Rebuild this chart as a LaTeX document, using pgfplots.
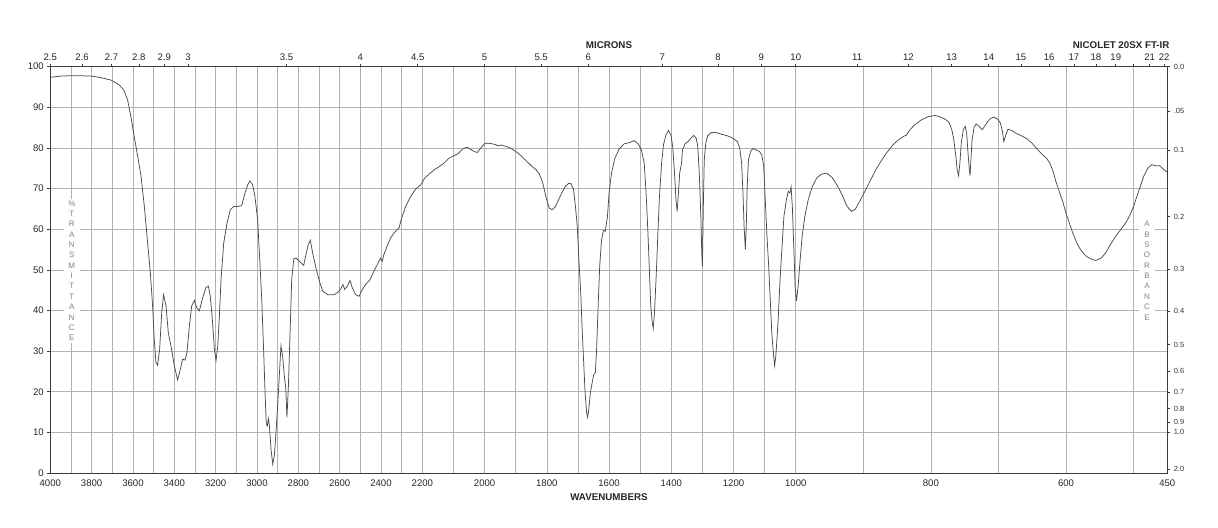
\documentclass[border=0pt]{standalone}
\usepackage{fontspec}
\setmainfont{Liberation Sans}
\usepackage{pgfplots}
\usepackage{pgfplotstable}
\pgfplotsset{compat=1.18}
\definecolor{gridc}{RGB}{178,178,178}
\definecolor{framec}{RGB}{60,60,60}
\definecolor{specc}{RGB}{75,75,75}
\definecolor{lblc}{RGB}{130,130,130}

% piecewise-linear wavenumber scale of the chart (breaks at 2200 and 1000 cm^-1)
\pgfplotsset{
  irframe/.style={
    at={(50.3bp,55bp)}, anchor=south west,
    scale only axis, width=1117bp, height=406.3bp,
    xmin=0, xmax=1117.08, ymin=0, ymax=100,
    tick align=outside, major tick length=3bp, minor tick length=0bp,
  },
}

\pgfplotstableread{
wn T
4000 97.4
3948 97.7
3884 97.8
3803 97.7
3755 97.3
3706 96.7
3666 95.5
3645 94.3
3626 91.8
3610 87.7
3594 82.8
3577 77.9
3561 73.0
3545 65.6
3529 56.6
3516 49.3
3505 41.1
3497 32.9
3489 27.2
3481 26.5
3471 30.4
3461 39.4
3452 43.9
3440 41.1
3429 34.5
3413 30.4
3400 26.4
3384 22.9
3371 25.5
3360 28.0
3348 27.8
3339 29.6
3327 36.2
3316 41.1
3303 42.5
3292 40.7
3279 39.9
3263 43.1
3247 45.6
3235 46.0
3226 43.5
3216 37.8
3206 30.4
3198 27.7
3190 31.2
3182 38.6
3174 47.6
3161 56.6
3145 61.5
3129 64.8
3113 65.6
3094 65.6
3074 65.8
3058 68.9
3045 70.9
3034 71.9
3021 70.9
3010 68.1
2997 62.4
2985 50.9
2977 42.7
2968 30.4
2961 19.8
2955 12.0
2950 11.6
2945 13.4
2940 11.6
2932 5.9
2924 2.2
2916 4.3
2908 10.0
2900 16.5
2892 23.9
2884 31.3
2876 28.8
2868 23.9
2861 21.0
2855 13.7
2848 21.4
2840 34.5
2832 47.6
2822 52.7
2811 52.9
2795 52.1
2774 51.1
2763 53.8
2752 56.2
2742 57.3
2731 54.2
2715 50.5
2698 47.2
2682 44.8
2658 43.9
2627 43.9
2608 44.5
2595 45.3
2584 46.4
2576 45.2
2563 46.0
2550 47.4
2539 45.6
2523 43.9
2506 43.5
2490 45.2
2474 46.4
2453 47.6
2434 49.7
2418 51.3
2402 52.9
2394 52.1
2386 53.8
2369 56.0
2353 57.9
2337 59.1
2313 60.3
2302 62.4
2281 65.6
2256 68.1
2232 69.9
2208 70.9
2192 72.6
2178 73.6
2162 74.6
2146 75.4
2130 76.3
2114 77.5
2098 78.1
2085 78.6
2071 79.7
2057 80.2
2046 79.7
2033 79.1
2023 78.9
2012 80.0
2001 81.0
1990 81.2
1974 81.0
1963 80.8
1958 80.5
1947 80.7
1931 80.4
1915 79.9
1899 79.1
1883 78.1
1867 76.9
1851 75.7
1834 74.6
1824 73.6
1813 71.4
1802 67.7
1792 65.2
1783 64.8
1773 65.5
1763 67.1
1752 68.9
1741 70.5
1730 71.3
1722 71.2
1714 69.7
1708 65.6
1702 60.7
1697 52.5
1691 44.4
1686 34.5
1681 26.4
1677 19.8
1672 14.9
1669 13.7
1665 15.7
1660 19.8
1654 22.3
1649 24.3
1644 24.7
1640 30.4
1635 41.1
1630 51.0
1624 57.4
1618 59.7
1612 59.5
1605 63.2
1600 68.9
1592 73.8
1582 77.3
1568 79.7
1552 81.0
1535 81.3
1519 81.8
1506 81.0
1496 79.5
1487 76.3
1481 68.9
1475 59.1
1470 49.3
1466 41.1
1461 37.0
1458 35.6
1454 39.4
1448 49.3
1443 59.1
1438 68.1
1431 76.3
1425 80.8
1417 83.2
1409 84.3
1401 83.2
1395 80.0
1389 73.0
1385 67.3
1381 64.4
1377 68.9
1373 73.8
1367 76.3
1364 79.5
1356 81.0
1346 81.6
1337 82.4
1328 83.1
1320 82.4
1315 80.4
1310 73.8
1305 63.2
1302 54.2
1300 50.9
1297 65.6
1294 77.1
1289 81.2
1283 83.0
1272 83.8
1256 83.8
1240 83.4
1220 83.0
1202 82.4
1188 81.6
1180 80.0
1174 76.3
1170 69.7
1166 60.7
1162 55.0
1159 60.7
1156 70.5
1152 77.1
1145 79.1
1138 79.9
1127 79.5
1116 79.1
1109 78.3
1103 75.4
1098 67.3
1093 59.1
1087 50.9
1082 42.7
1077 34.5
1072 29.6
1068 26.4
1064 28.8
1057 37.0
1051 46.8
1044 55.8
1038 63.2
1030 67.3
1024 69.3
1019 68.9
1015 70.4
1011 65.6
1006 55.0
1002 46.0
999 42.3
996.5 46.0
993.5 52.5
990.5 58.3
986.5 63.2
981.5 67.3
975.5 70.5
969 72.6
961.5 73.6
954 73.8
946.5 72.8
939 70.9
931.5 68.5
924 65.6
917.5 64.4
911.5 65.0
904 67.3
896.5 69.7
889 72.2
881.5 74.6
874 76.7
866.5 78.6
860 79.9
856 80.8
848 82.0
841 82.8
836 83.2
831 84.5
824 85.7
814 86.9
804 87.7
794 88.0
787 87.7
779 87.1
773 86.3
769 84.5
766 82.0
763 77.9
761 74.6
759 73.2
757 76.3
755 81.2
752 84.5
749 85.3
747 83.6
745 78.7
743 74.6
742 73.2
741 76.3
739 82.0
736 85.1
733 85.9
729 85.4
724 84.5
719 85.7
713 87.1
707 87.6
701 87.1
697 86.1
694 84.0
692 81.6
689 83.2
686 84.6
680 84.3
674 83.6
666 83.0
659 82.4
651 81.3
644 80.0
637 78.7
629 77.5
624 76.3
619 74.2
615 71.8
610 69.3
605 66.9
600 64.0
595 61.5
590 59.1
585 57.0
580 55.4
575 54.2
569 53.2
563 52.7
556 52.3
548 52.9
542 54.0
537 55.4
532 56.8
526 58.4
519 59.9
511 61.7
505 63.6
500 65.6
495 68.1
490 70.5
485 73.0
479 75.0
473 75.9
467 75.6
461 75.6
456 74.8
450 74.0
}\spec

\begin{document}
\begin{tikzpicture}
\useasboundingbox (0,0) rectangle (1218bp,528bp);
\begin{axis}[
  irframe,
  declare function={wmap(\w)=0.2067*(4000-max(\w,2200))+0.3112*(2200-min(max(\w,1000),2200))+0.6756*(1000-min(\w,1000));},
  % tick positions = wmap(wavenumber)
  xtick={0,41.34,82.68,124.02,165.36,206.7,248.04,289.38,330.72,372.06,434.3,496.54,558.78,621.02,683.26,745.5,880.62,1015.74,1117.08},
  xticklabels={4000,3800,3600,3400,3200,3000,2800,2600,2400,2200,2000,1800,1600,1400,1200,1000,800,600,450},
  minor xtick={20.67,62.01,103.35,144.69,186.03,227.37,268.71,310.05,351.39,403.18,465.42,527.66,589.9,652.14,714.38,813.06,948.18,1083.3},
  ytick={0,10,20,30,40,50,60,70,80,90,100},
  yticklabels={0,10,20,30,40,50,60,70,80,90,100},
  xtick pos=left, ytick pos=left,
  grid=both,
  major grid style={gridc, line width=0.6bp},
  minor grid style={gridc, line width=0.6bp},
  axis line style={framec, line width=1bp},
  xtick style={draw=none},
  ytick style={framec, line width=0.6bp},
  tick label style={font=\fontsize{9.6}{11}\selectfont, text=black!85},
]
\node[fill=white, inner xsep=4.5bp, inner ysep=2bp, text=lblc, font=\fontsize{8}{10.4}\selectfont, align=center] at (axis cs:21.5,49.8) {\%\\T\\R\\A\\N\\S\\M\\I\\T\\T\\A\\N\\C\\E};
\node[fill=white, inner xsep=4.5bp, inner ysep=2bp, text=lblc, font=\fontsize{8}{10.4}\selectfont, align=center] at (axis cs:1096.8,49.8) {A\\B\\S\\O\\R\\B\\A\\N\\C\\E};
\addplot[specc, line width=0.75bp, mark=none] table[x expr={wmap(\thisrow{wn})}, y=T] {\spec};
\end{axis}
\begin{axis}[
  irframe,
  axis line style={draw=none},
  xtick pos=right, xticklabel pos=right,
  ytick pos=right, yticklabel pos=right,
  % micron ticks at wmap(10000/micron)
  xtick={0,31.80,61.25,88.59,114.04,137.80,236.23,310.05,367.47,434.30,490.88,538.03,612.13,667.70,710.92,745.5,806.92,858.10,901.41,938.53,970.70,998.85,1023.69,1045.76,1065.52,1083.30,1099.39,1114.01},
  xticklabels={2.5,2.6,2.7,2.8,2.9,3,3.5,4,4.5,5,5.5,6,7,8,9,10,11,12,13,14,15,16,17,18,19,{},21,22},
  ytick={100,89.125,79.433,63.096,50.119,39.811,31.623,25.119,19.953,15.849,12.589,10,1},
  yticklabels={0.0,.05,0.1,0.2,0.3,0.4,0.5,0.6,0.7,0.8,0.9,1.0,2.0},
  tick style={framec, line width=0.6bp},
  xticklabel style={font=\fontsize{9.6}{11}\selectfont, text=black!85},
  yticklabel style={font=\fontsize{7.5}{9}\selectfont, text=black!80},
]
\end{axis}
\node[font=\bfseries\fontsize{9.8}{11}\selectfont, text=black!85] at (609bp,483bp) {MICRONS};
\node[font=\bfseries\fontsize{9.8}{11}\selectfont, text=black!85, anchor=east] at (1173bp,483bp) {NICOLET 20SX FT-IR};
\node[font=\bfseries\fontsize{9.8}{11}\selectfont, text=black!85] at (609bp,31bp) {WAVENUMBERS};
\end{tikzpicture}
\end{document}
